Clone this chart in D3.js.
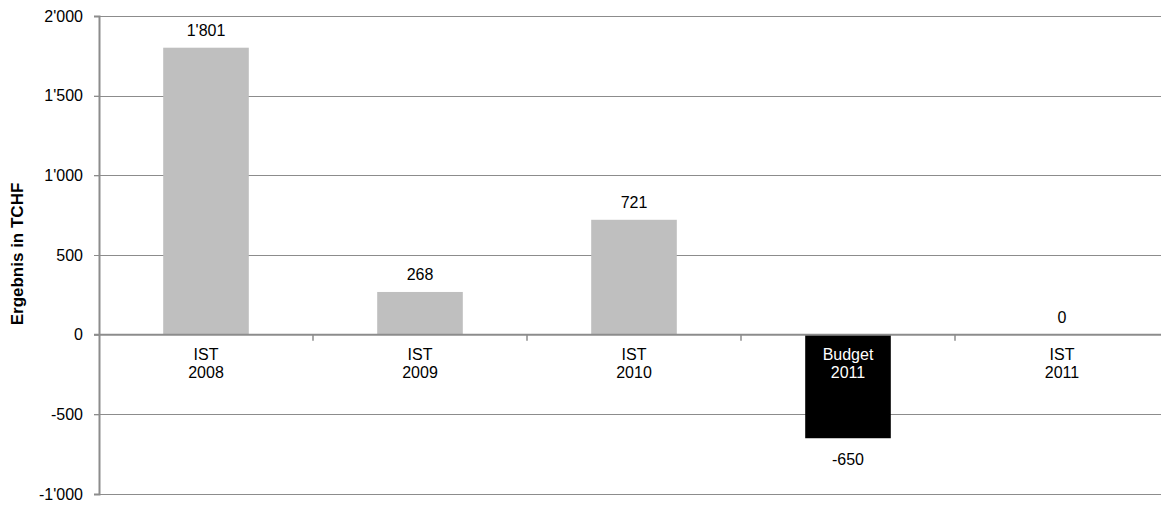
<!DOCTYPE html>
<html>
<head>
<meta charset="utf-8">
<script src="https://cdn.jsdelivr.net/npm/d3@7"></script>
<style>
  body { margin: 0; background: #fff; }
  text { font-family: "Liberation Sans", Arial, sans-serif; }
</style>
</head>
<body>
<script>
// chart data
const categories = [["IST", "2008"], ["IST", "2009"], ["IST", "2010"], ["Budget", "2011"], ["IST", "2011"]];
const values = [1801, 268, 721, -650, 0];
const barColors = ["#bfbfbf", "#bfbfbf", "#bfbfbf", "#000000", "#bfbfbf"];
const yTicks = [-1000, -500, 0, 500, 1000, 1500, 2000];
const yTitle = "Ergebnis in TCHF";

const width = 1161, height = 505;
const margin = { left: 99, right: -8, top: 16, bottom: 11 };
const fs = 16;

const svg = d3.select("body").append("svg")
    .attr("width", width)
    .attr("height", height);

// swiss thousands separator, plain hyphen for negatives
const fmt = v => d3.format(",")(v).replace(/,/g, "'").replace("\u2212", "-");

const x = d3.scaleBand()
    .domain(d3.range(categories.length))
    .range([margin.left, width - margin.right])
    .paddingInner(0.6).paddingOuter(0.3);

const y = d3.scaleLinear().domain([-1000, 2000]).range([height - margin.bottom, margin.top]);

// gridlines
svg.append("g").selectAll("line").data(yTicks.filter(d => d !== 0)).enter()
    .append("line")
    .attr("x1", margin.left - 5).attr("x2", width)
    .attr("y1", d => Math.round(y(d)) + 0.5).attr("y2", d => Math.round(y(d)) + 0.5)
    .attr("stroke", "#8c8c8c").attr("stroke-width", 1.2);

// bars
svg.append("g").selectAll("rect").data(values).enter()
    .append("rect")
    .attr("x", (d, i) => x(i))
    .attr("width", x.bandwidth())
    .attr("y", d => y(Math.max(0, d)))
    .attr("height", d => Math.abs(y(d) - y(0)))
    .attr("fill", (d, i) => barColors[i]);

// zero axis
const y0 = y(0);
svg.append("line")
    .attr("x1", margin.left - 5).attr("x2", width)
    .attr("y1", y0).attr("y2", y0)
    .attr("stroke", "#8c8c8c").attr("stroke-width", 2);

// category separators below zero axis
const bandW = (width - margin.right - margin.left) / categories.length;
svg.append("g").selectAll("line").data(d3.range(1, categories.length)).enter()
    .append("line")
    .attr("x1", i => margin.left + i * bandW)
    .attr("x2", i => margin.left + i * bandW)
    .attr("y1", y0).attr("y2", y0 + 6)
    .attr("stroke", "#8c8c8c").attr("stroke-width", 1.5);

// y axis
const yAxis = d3.axisLeft(y).tickValues(yTicks).tickFormat(fmt).tickSize(5).tickPadding(11);
const ga = svg.append("g").attr("transform", `translate(${margin.left},0)`).call(yAxis);
ga.select(".domain").attr("stroke", "#8c8c8c").attr("stroke-width", 2);
ga.selectAll(".tick line").attr("stroke", "#8c8c8c");
ga.selectAll(".tick text").attr("font-size", fs).attr("fill", "#000")
    .style("font-family", "'Liberation Sans', Arial, sans-serif");

// category labels
const cat = svg.append("g").selectAll("text").data(categories).enter()
    .append("text")
    .attr("text-anchor", "middle")
    .attr("font-size", fs)
    .attr("fill", (d, i) => barColors[i] === "#000000" ? "#fff" : "#000");
cat.each(function(d, i) {
    const t = d3.select(this);
    d.forEach((line, k) => {
        t.append("tspan")
            .attr("x", x(i) + x.bandwidth() / 2)
            .attr("y", y0 + 25 + k * 18)
            .text(line);
    });
});

// value labels
svg.append("g").selectAll("text").data(values).enter()
    .append("text")
    .attr("text-anchor", "middle")
    .attr("font-size", fs)
    .attr("x", (d, i) => x(i) + x.bandwidth() / 2)
    .attr("y", d => d < 0 ? y(d) + 27 : y(d) - 12)
    .text(d => fmt(d));

// y title
svg.append("text")
    .attr("transform", `translate(23,254) rotate(-90)`)
    .attr("text-anchor", "middle")
    .attr("font-size", 17)
    .attr("font-weight", "bold")
    .text(yTitle);
</script>
</body>
</html>
